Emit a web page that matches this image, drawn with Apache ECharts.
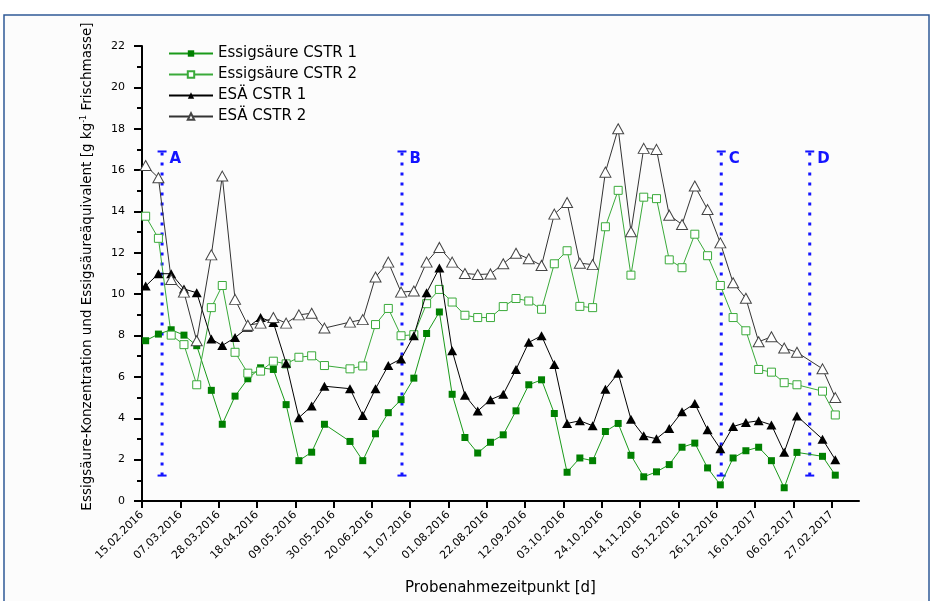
<!DOCTYPE html>
<html>
<head>
<meta charset="utf-8">
<script src="https://cdn.jsdelivr.net/npm/echarts@6/dist/echarts.min.js"></script>
<style>
html,body{margin:0;padding:0;background:#fff;}
#chart{width:931px;height:601px;}
</style>
</head>
<body>
<div id="chart"></div>
<script>
// ---- data ----
var sampleDates = [
  '2016-02-17','2016-02-24','2016-03-02','2016-03-09','2016-03-16','2016-03-24','2016-03-30',
  '2016-04-06','2016-04-13','2016-04-20','2016-04-27','2016-05-04','2016-05-11','2016-05-18',
  '2016-05-25','2016-06-08','2016-06-15','2016-06-22','2016-06-29','2016-07-06','2016-07-13',
  '2016-07-20','2016-07-27','2016-08-03','2016-08-10','2016-08-17','2016-08-24','2016-08-31',
  '2016-09-07','2016-09-14','2016-09-21','2016-09-28','2016-10-05','2016-10-12','2016-10-19',
  '2016-10-26','2016-11-02','2016-11-09','2016-11-16','2016-11-23','2016-11-30','2016-12-07',
  '2016-12-14','2016-12-21','2016-12-28','2017-01-04','2017-01-11','2017-01-18','2017-01-25',
  '2017-02-01','2017-02-08','2017-02-22','2017-03-01'
];
var essigCSTR1 = [7.75,8.07,8.28,8.02,7.51,5.35,3.71,5.07,5.91,6.44,6.36,4.66,1.95,2.36,3.71,2.88,1.95,3.25,4.27,4.9,5.94,8.1,9.14,5.16,3.07,2.32,2.84,3.2,4.36,5.62,5.86,4.23,1.39,2.08,1.95,3.36,3.75,2.21,1.17,1.41,1.76,2.6,2.8,1.6,0.78,2.08,2.43,2.6,1.95,0.64,2.35,2.16,1.25];
var essigCSTR2 = [13.77,12.7,8.02,7.56,5.62,9.35,10.42,7.19,6.18,6.28,6.76,6.63,6.95,7.02,6.55,6.39,6.53,8.53,9.31,7.99,8.04,9.54,10.23,9.62,8.98,8.87,8.87,9.4,9.79,9.67,9.27,11.47,12.1,9.41,9.35,13.26,15.02,10.92,14.69,14.62,11.66,11.28,12.9,11.86,10.42,8.87,8.23,6.36,6.23,5.72,5.62,5.31,4.16];
var esaCSTR1 = [10.39,10.99,10.99,10.25,10.07,7.83,7.52,7.9,8.4,8.87,8.63,6.66,4.03,4.59,5.55,5.43,4.14,5.43,6.55,6.87,7.99,10.07,11.27,7.27,5.11,4.35,4.9,5.16,6.36,7.67,7.99,6.6,3.75,3.88,3.64,5.4,6.18,3.95,3.15,3.01,3.51,4.31,4.71,3.44,2.53,3.6,3.79,3.88,3.68,2.36,4.11,2.99,2.0];
var esaCSTR2 = [16.22,15.63,10.71,10.1,7.75,11.9,15.71,9.75,8.5,8.6,8.87,8.6,9.0,9.08,8.36,8.65,8.77,10.83,11.55,10.1,10.15,11.55,12.26,11.55,11.0,10.95,10.98,11.47,11.98,11.71,11.39,13.87,14.43,11.5,11.43,15.9,18.0,13.02,17.05,17.0,13.82,13.37,15.23,14.09,12.48,10.55,9.8,7.7,7.94,7.4,7.19,6.39,5.0];
var seriesNames = ['Essigsäure CSTR 1','Essigsäure CSTR 2','ESÄ CSTR 1','ESÄ CSTR 2'];
var tickLabels = ['15.02.2016','07.03.2016','28.03.2016','18.04.2016','09.05.2016','30.05.2016','20.06.2016',
  '11.07.2016','01.08.2016','22.08.2016','12.09.2016','03.10.2016','24.10.2016','14.11.2016',
  '05.12.2016','26.12.2016','16.01.2017','06.02.2017','27.02.2017'];
var phaseLabels = ['A','B','C','D'];
var phaseDates = ['2016-02-26','2016-07-06','2016-12-28','2017-02-15'];
var phaseOffsetDays = [0, 0.5, 0.5, 0];
var phaseRange = [1.23, 16.9];
var yLabels = ['0','2','4','6','8','10','12','14','16','18','20','22'];

// ---- helpers ----
var t0 = Date.UTC(2016,1,15);
function dayOf(s){ var p = s.split('-'); return Math.round((Date.UTC(+p[0],+p[1]-1,+p[2]) - t0)/86400000); }
function dayOfLabel(s){ var p = s.split('.'); return Math.round((Date.UTC(+p[2],+p[1]-1,+p[0]) - t0)/86400000); }
var xDays = sampleDates.map(dayOf);
var tickDays = tickLabels.map(dayOfLabel);
var labelByDay = {};
tickDays.forEach(function(d,i){ labelByDay[d] = tickLabels[i]; });
function pairs(vals){ return vals.map(function(v,i){ return [xDays[i], v]; }); }
function fixedSize(s){ return function(){ return s; }; }

var FONT = 'DejaVu Sans';
var green1 = '#1a9a1a', green2 = '#3aaa3a', sqFill = '#008000';

var series = [
  {name: seriesNames[0], type:'line', data: pairs(essigCSTR1), symbol:'rect', symbolSize:fixedSize(7), showAllSymbol:true,
   lineStyle:{color:green1, width:1}, itemStyle:{color:sqFill, borderColor:sqFill, borderWidth:0}, z:3},
  {name: seriesNames[1], type:'line', data: pairs(essigCSTR2), symbol:'rect', symbolSize:fixedSize(8), showAllSymbol:true,
   lineStyle:{color:green2, width:1}, itemStyle:{color:'#ffffff', borderColor:green2, borderWidth:1}, z:3},
  {name: seriesNames[2], type:'line', data: pairs(esaCSTR1), symbol:'triangle', symbolSize:fixedSize([10,9]), showAllSymbol:true,
   lineStyle:{color:'#000', width:1}, itemStyle:{color:'#000', borderColor:'#000', borderWidth:0}, z:4},
  {name: seriesNames[3], type:'line', data: pairs(esaCSTR2), symbol:'triangle', symbolSize:fixedSize([11,10]), showAllSymbol:true,
   lineStyle:{color:'#333', width:1}, itemStyle:{color:'#ffffff', borderColor:'#444', borderWidth:1}, z:4}
];
phaseLabels.forEach(function(lab, i){
  var d = dayOf(phaseDates[i]) + phaseOffsetDays[i];
  series.push({
    name: 'phase' + lab, type:'line', silent:true, z:2,
    symbol:'rect', symbolSize:[9,2], showAllSymbol:true,
    lineStyle:{color:'#1414ff', width:3, type:[3,7]},
    itemStyle:{color:'#1414ff'},
    data:[
      {value:[d, phaseRange[0]]},
      {value:[d, phaseRange[1]], label:{show:true, formatter: lab, position:'right', distance:3, offset:[0,8],
        color:'#1414ff', fontFamily:FONT, fontWeight:'bold', fontSize:15}}
    ]
  });
});

var chart = echarts.init(document.getElementById('chart'), null, {renderer:'canvas'});
chart.setOption({
  animation:false,
  backgroundColor:'#ffffff',
  graphic:[{type:'rect', z:-10, shape:{x:4, y:15, width:925, height:600},
    style:{fill:'#fcfcfc', stroke:'#2f5a96', lineWidth:1.5}}],
  grid:{left:142, top:46, right:72, bottom:96, containLabel:false},
  legend:{
    data: seriesNames, orient:'vertical', left:168, top:46, padding:0,
    itemWidth:44, itemHeight:8, itemGap:6,
    textStyle:{fontFamily:FONT, fontSize:15, color:'#000'}
  },
  xAxis:{
    type:'value', min:0, max:393,
    name:'Probenahmezeitpunkt [d]', nameLocation:'middle', nameGap:80,
    nameTextStyle:{fontFamily:FONT, fontSize:15, color:'#000'},
    axisLine:{show:true, lineStyle:{color:'#000', width:2}},
    axisTick:{show:true, length:7, lineStyle:{color:'#000', width:2}, customValues: tickDays},
    axisLabel:{customValues: tickDays, rotate:45, margin:12, fontFamily:FONT, fontSize:11, color:'#000',
      formatter:function(v){ return labelByDay[Math.round(v)] || ''; }},
    splitLine:{show:false}
  },
  yAxis:{
    type:'value', min:0, max:22, interval:2,
    name:'Essigsäure-Konzentration und Essigsäureäquivalent [g kg{sup|-1} Frischmasse]',
    nameLocation:'middle', nameGap:47, nameRotate:90,
    nameTextStyle:{fontFamily:FONT, fontSize:13.5, color:'#000', padding:[0,0,0,14],
      rich:{sup:{fontFamily:FONT, fontSize:8, color:'#000', verticalAlign:'top', padding:[0,0,7,0]}}},
    axisLine:{show:true, lineStyle:{color:'#000', width:2}},
    axisTick:{show:true, length:8, lineStyle:{color:'#000', width:2}},
    minorTick:{show:true, splitNumber:2, length:5, lineStyle:{color:'#000', width:2}},
    axisLabel:{margin:17, fontFamily:FONT, fontSize:11, color:'#000',
      formatter:function(v){ return yLabels[Math.round(v/2)]; }},
    splitLine:{show:false}
  },
  series: series
});
</script>
</body>
</html>
